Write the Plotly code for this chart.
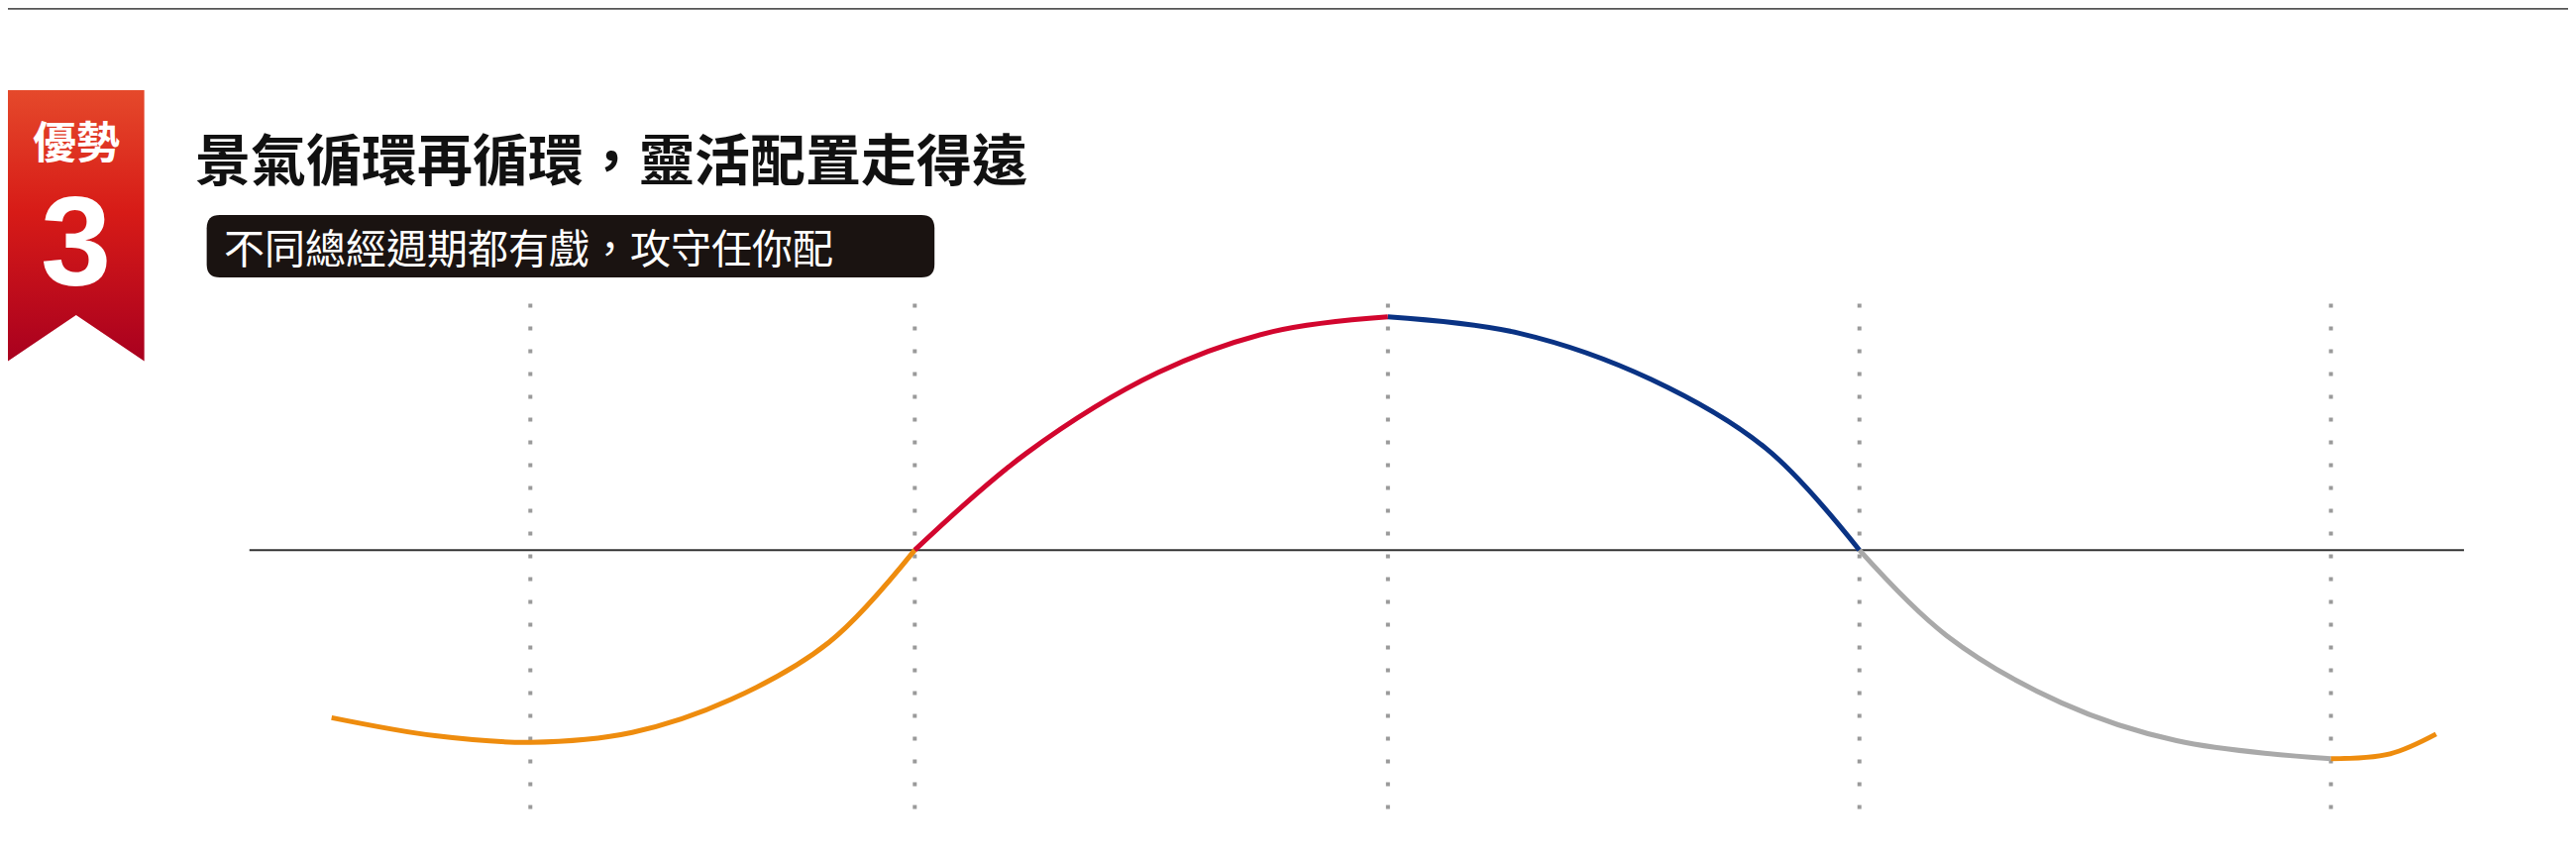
import plotly.graph_objects as go

# coordinates in a 1568 x 525 reference frame (page is 2600 x 870)
W, H = 1568, 870 / (2600 / 1568)

cycle_x = [318, 552, 840, 1127, 1414]          # dotted phase markers
zero_y = 330

seg_orange1_x = [197, 260, 318, 380, 440, 500, 552]
seg_orange1_y = [432, 443, 447, 441, 421, 386, 330]
seg_red_x = [552, 620, 700, 770, 840]
seg_red_y = [330, 271, 222, 197, 188]
seg_navy_x = [840, 920, 1000, 1070, 1127]
seg_navy_y = [188, 198, 226, 268, 330]
seg_gray_x = [1127, 1180, 1250, 1320, 1414]
seg_gray_y = [330, 382, 423, 446, 457]
seg_orange2_x = [1414, 1450, 1478]
seg_orange2_y = [457, 454, 442]

segments = [
    (seg_orange1_x, seg_orange1_y, '#EE8C0E'),
    (seg_red_x, seg_red_y, '#D2062E'),
    (seg_navy_x, seg_navy_y, '#0A3384'),
    (seg_gray_x, seg_gray_y, '#A9A9A9'),
    (seg_orange2_x, seg_orange2_y, '#EE8C0E'),
]

title = "景氣循環再循環，靈活配置走得遠"
subtitle = "不同總經週期都有戲，攻守任你配"
badge_top = "優勢"
badge_num = "3"

fig = go.Figure()

# badge ribbon
fig.add_trace(go.Scatter(
    x=[0, 83, 83, 41.5, 0, 0], y=[50, 50, 215, 187, 215, 50],
    mode='lines', fill='toself', line=dict(width=0),
    fillgradient=dict(type='vertical', start=50, stop=215,
                      colorscale=[[0, '#E5492B'], [0.45, '#D71B17'], [1, '#A9001F']]),
    hoverinfo='skip', showlegend=False))

# vertical dotted lines
for x in cycle_x:
    fig.add_trace(go.Scatter(
        x=[x, x], y=[180, 495], mode='lines',
        line=dict(color='#9A9A9A', width=4, dash='4px,19px'),
        hoverinfo='skip', showlegend=False))

# zero line
fig.add_trace(go.Scatter(
    x=[147, 1495], y=[zero_y, zero_y], mode='lines',
    line=dict(color='#333333', width=2), hoverinfo='skip', showlegend=False))

for xs, ys, c in segments:
    fig.add_trace(go.Scatter(
        x=xs, y=ys, mode='lines', line=dict(color=c, width=5, shape='spline', smoothing=1.0),
        hoverinfo='skip', showlegend=False))

# subtitle box
fig.add_shape(type='path', xref='x', yref='y', layer='below',
              path='M 129 126 L 556 126 Q 564 126 564 134 L 564 156 Q 564 164 556 164 '
                   'L 129 164 Q 121 164 121 156 L 121 134 Q 121 126 129 126 Z',
              fillcolor='#1A1311', line=dict(width=0))
# top rule
fig.add_shape(type='line', xref='x', yref='y', x0=0, x1=W, y0=0.5, y1=0.5,
              line=dict(color='#555555', width=2))

fig.add_annotation(x=113, y=90, xref='x', yref='y', text='<b>' + title + '</b>',
                   showarrow=False, xanchor='left', yanchor='middle',
                   font=dict(family='Noto Sans CJK TC', size=56, color='#111111'))
fig.add_annotation(x=130, y=145, xref='x', yref='y', text=subtitle,
                   showarrow=False, xanchor='left', yanchor='middle',
                   font=dict(family='Noto Sans CJK TC', size=41, color='white'))
fig.add_annotation(x=41.5, y=80, xref='x', yref='y', text='<b>' + badge_top + '</b>',
                   showarrow=False, xanchor='center', yanchor='middle',
                   font=dict(family='Noto Sans CJK TC', size=44, color='white'))
fig.add_annotation(x=41.5, y=142, xref='x', yref='y', text='<b>' + badge_num + '</b>',
                   showarrow=False, xanchor='center', yanchor='middle',
                   font=dict(family='Liberation Sans', size=128, color='white'))

fig.update_layout(
    width=2600, height=870,
    margin=dict(l=0, r=0, t=0, b=0),
    paper_bgcolor='white', plot_bgcolor='white',
    xaxis=dict(range=[0, W], visible=False, fixedrange=True),
    yaxis=dict(range=[H, 0], visible=False, fixedrange=True),
)

fig.write_html("out.html")
